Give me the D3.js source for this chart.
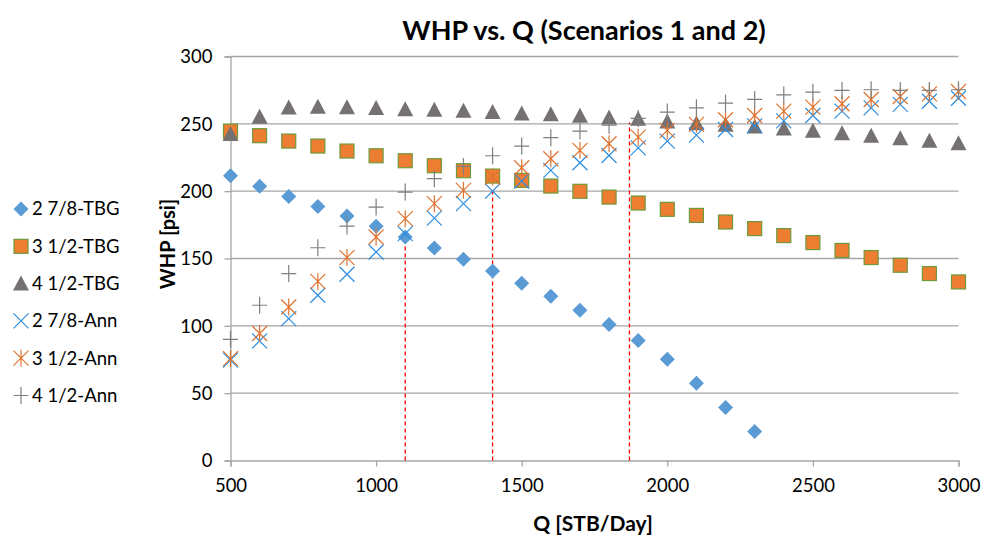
<!DOCTYPE html>
<html><head><meta charset="utf-8">
<script src="https://cdn.jsdelivr.net/npm/d3@7"></script>
<style>body{margin:0;background:#fff}svg{display:block}text{font-family:Lato,"Open Sans",sans-serif}</style>
</head><body><svg id="c" width="982" height="537"></svg>
<script>
const qAll = [500,600,700,800,900,1000,1100,1200,1300,1400,1500,1600,1700,1800,1900,2000,2100,2200,2300,2400,2500,2600,2700,2800,2900,3000];
const tbg278 = [211.5,203.6,196.1,188.7,181.5,174,166,157.8,149.4,140.7,131.6,122,111.6,101,89.2,75.2,57.4,39.4,21.6];
const tbg312 = [244.6,241.2,237.2,233.5,229.8,226.3,222.6,218.9,215.2,211.2,208,203.8,199.9,195.6,191.2,186.5,182,177.1,172.2,167,161.8,156,150.7,145,138.8,132.6];
const tbg412 = [242.4,255.2,262.2,262.7,262.4,261.7,260.9,260.4,259.7,258.7,257.7,257.1,256,254.7,253.7,251.8,250.5,249.3,248,246.5,244.9,243,241.2,239.3,237.4,235.5];
const ann278 = [74.5,88.8,105.4,122.7,138.3,154.8,168.5,180,190.7,200,207.5,215.4,221.1,226.5,232.2,237.2,241.6,245.8,248.5,252.2,256.2,259.4,261.9,264.4,266.8,269];
const ann312 = [75.7,94.3,114,133,150.7,166,179.6,190.7,200.6,210.5,217.4,224.1,230.3,235.2,240.1,245.1,249.6,253,256.2,259.4,262.4,264.9,268.1,270.3,272.3,274];
const ann412 = [90,115.3,138.8,158,174.1,188.2,199.3,209.3,218.4,226.3,233.5,239.7,244.6,249,254,258.7,261.9,265.4,268.1,271.5,273.5,274.8,275.3,274.8,274.8,275.3];
const seriesNames = ["2 7/8-TBG","3 1/2-TBG","4 1/2-TBG","2 7/8-Ann","3 1/2-Ann","4 1/2-Ann"];
const refQ = [1100,1400,1870];
const refWHP = [168,201,251];
const xTicks = [500,1000,1500,2000,2500,3000];
const yTicks = [0,50,100,150,200,250,300];

const svg = d3.select("#c");
const x = d3.scaleLinear().domain([500,3000]).range([230.5,958.5]);
const y = d3.scaleLinear().domain([0,300]).range([460.5,56.5]);
const grid = "#a6a6a6";

svg.append("g").selectAll("line").data(yTicks.filter(d=>d>0)).join("line")
  .attr("x1",x(500)).attr("x2",x(3000)).attr("y1",d=>y(d)).attr("y2",d=>y(d))
  .attr("stroke",grid).attr("stroke-width",1.3);

const xa = svg.append("g").attr("transform",`translate(0,${y(0)})`)
  .call(d3.axisBottom(x).tickValues(xTicks).tickSize(6).tickPadding(12).tickFormat(d3.format("d")));
const ya = svg.append("g").attr("transform",`translate(${x(500)},0)`)
  .call(d3.axisLeft(y).tickValues(yTicks).tickSize(6).tickPadding(12));
[xa,ya].forEach(a=>{
  a.select(".domain").attr("stroke",grid).attr("stroke-width",1.3);
  a.selectAll(".tick line").attr("stroke",grid).attr("stroke-width",1.3);
  a.selectAll(".tick text").attr("fill","#000").style("font-size","18.5px").style("font-family","Lato");
});
ya.selectAll(".tick text").attr("dy","0.35em");

svg.append("g").selectAll("line").data(refQ).join("line")
  .attr("x1",d=>x(d)).attr("x2",d=>x(d)).attr("y1",y(0)).attr("y2",(d,i)=>y(refWHP[i]))
  .attr("stroke","#ff0000").attr("stroke-width",1.3).attr("stroke-dasharray","4,3");

const S = 7.5;
const draw = [
  (g)=>g.append("path").attr("d",`M0,${-S}L${S},0L0,${S}L${-S},0Z`).attr("fill","#5b9bd5"),
  (g)=>g.append("rect").attr("x",-7).attr("y",-7).attr("width",14).attr("height",14).attr("fill","#ed7d31").attr("stroke","#6f9a3c").attr("stroke-width",1.2),
  (g)=>g.append("path").attr("d",`M0,-8L8,7L-8,7Z`).attr("fill","#767171"),
  (g)=>g.append("path").attr("d",`M-7.5,-7.5L7.5,7.5M7.5,-7.5L-7.5,7.5`).attr("stroke","#2b8de0").attr("stroke-width",1.2).attr("fill","none"),
  (g)=>g.append("path").attr("d",`M-7.5,-7.5L7.5,7.5M7.5,-7.5L-7.5,7.5M0,-8.5L0,8.5`).attr("stroke","#e07330").attr("stroke-width",1.2).attr("fill","none"),
  (g)=>g.append("path").attr("d",`M-7.5,0L7.5,0M0,-8.5L0,8.5`).attr("stroke","#7f7f7f").attr("stroke-width",1.2).attr("fill","none")
];
const allSeries = [tbg278,tbg312,tbg412,ann278,ann312,ann412];
allSeries.forEach((vals,si)=>{
  const g = svg.append("g");
  vals.forEach((v,i)=>{
    const m = g.append("g").attr("transform",`translate(${x(qAll[i])},${y(v)})`);
    draw[si](m);
  });
});

const lg = svg.append("g");
seriesNames.forEach((n,i)=>{
  const yy = 209 + i*37.3;
  const m = lg.append("g").attr("transform",`translate(21,${yy})`);
  draw[i](m);
  lg.append("text").attr("x",32).attr("y",yy).attr("dy","0.35em").style("font-size","18.5px").text(n);
});

svg.append("text").attr("x",584).attr("y",40).attr("text-anchor","middle")
  .style("font-size","27px").style("font-weight","bold").text("WHP vs. Q (Scenarios 1 and 2)");
svg.append("text").attr("x",593).attr("y",531).attr("text-anchor","middle")
  .style("font-size","21px").style("font-weight","bold").text("Q [STB/Day]");
svg.append("text").attr("transform","translate(175,244) rotate(-90)").attr("text-anchor","middle")
  .style("font-size","20px").style("font-weight","bold").text("WHP [psi]");
</script></body></html>
